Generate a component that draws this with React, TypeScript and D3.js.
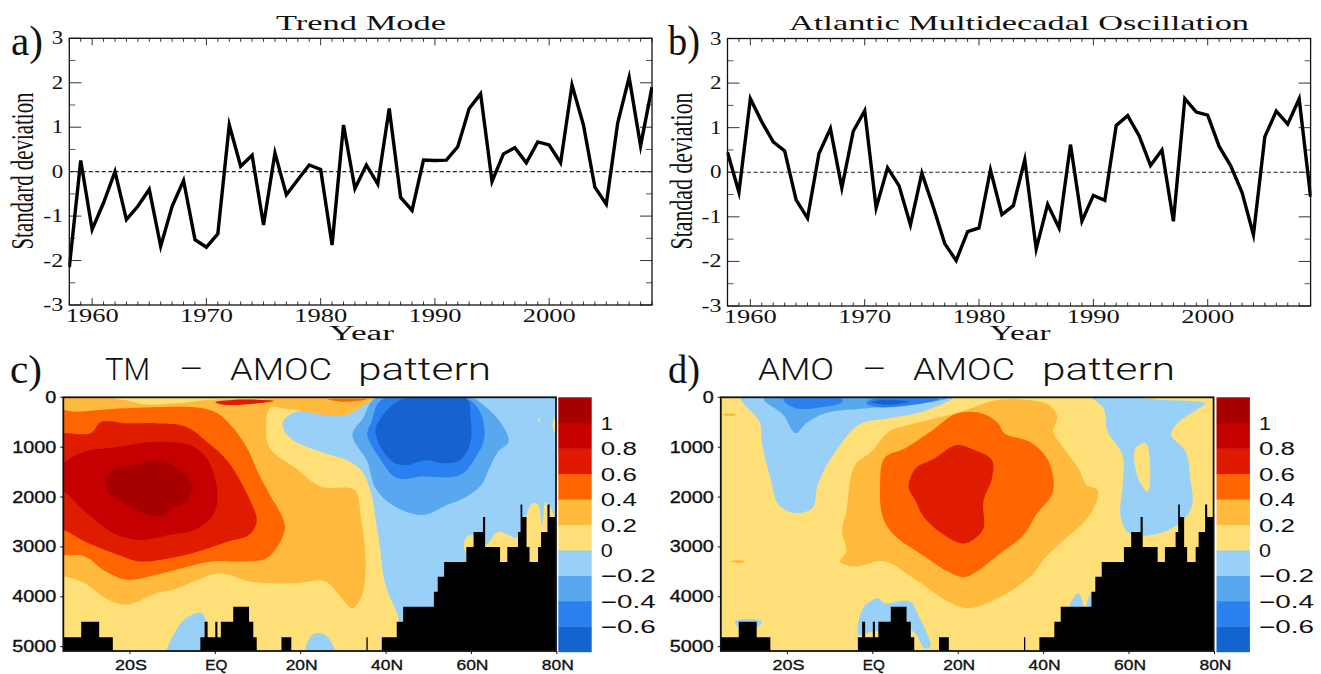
import * as d3 from "d3";

type Pt = [number, number];

const years = d3.range(1958, 2010);
const trendMode = [
  -2.15, 0.25, -1.3, -0.7, 0.0, -1.08, -0.78, -0.4, -1.68, -0.78, -0.2, -1.53, -1.7, -1.4, 1.05, 0.12, 0.37, -1.2,
  0.42, -0.52, -0.18, 0.15, 0.05, -1.65, 1.05, -0.38, 0.15, -0.28, 1.42, -0.58, -0.87, 0.26, 0.25, 0.26, 0.56, 1.42,
  1.75, -0.22, 0.4, 0.54, 0.2, 0.67, 0.6, 0.2, 1.95, 1.05, -0.35, -0.73, 1.1, 2.12, 0.58, 1.9,
];
const amo = [
  0.45, -0.45, 1.65, 1.13, 0.68, 0.48, -0.62, -1.03, 0.42, 0.98, -0.35, 0.92, 1.38, -0.8, 0.1, -0.3, -1.18, -0.02,
  -0.78, -1.6, -1.98, -1.33, -1.25, 0.05, -0.95, -0.75, 0.28, -1.72, -0.72, -1.25, 0.62, -1.1, -0.52, -0.63, 1.05,
  1.27, 0.82, 0.15, 0.5, -1.1, 1.65, 1.35, 1.28, 0.58, 0.15, -0.45, -1.4, 0.8, 1.37, 1.08, 1.65, -0.55,
];
const yearTicks = [1960, 1970, 1980, 1990, 2000];
const sdTicks = [-3, -2, -1, 0, 1, 2, 3];
const latTicks: [number, string][] = [
  [-20, "20S"],
  [0, "EQ"],
  [20, "20N"],
  [40, "40N"],
  [60, "60N"],
  [80, "80N"],
];
const depthTicks = [0, 1000, 2000, 3000, 4000, 5000];
const bandEdges = d3.range(-0.8, 1.21, 0.2).map((d) => +d.toFixed(1));
const bandColors = [
  "#1464d0",
  "#2a80ee",
  "#58a8f0",
  "#98d0f8",
  "#ffe078",
  "#ffba3c",
  "#ff6600",
  "#e01a00",
  "#c40000",
  "#a80000",
];
const barLabels = [-0.6, -0.4, -0.2, 0, 0.2, 0.4, 0.6, 0.8, 1];

// sea floor: lat where a step starts, depth of the floor from there on
const floorLat = [
  -37, -31.4, -27.2, -24, -3.5, -2.5, -1.8, 0, 0.5, 1.3, 4.2, 7.9, 8.9, 9.7, 15.5, 17.8, 35.4, 35.7, 39, 42.5, 44,
  51.2, 52.1, 53.6, 58.8, 60.5, 62.7, 63.2, 66.7, 68.4, 70.9, 71.5, 71.9, 72.9, 73.6, 75.6, 76.3, 77.8, 78.3, 80.5,
];
const floorDepth = [
  4810, 4500, 4810, 5200, 4810, 4500, 4810, 4500, 4810, 4500, 4200, 4500, 4810, 5200, 4810, 5200, 4810, 5200, 4810,
  4500, 4200, 3900, 3600, 3300, 3000, 2700, 2400, 3000, 3300, 3000, 2700, 2150, 2400, 3000, 3300, 3000, 2700, 2150,
  2400, 2400,
];

// TM panel contours, lat / depth
const tmBlue0: Pt[] = [
  [15.8, 500], [18.8, 290], [24.7, 320], [29.6, 370], [33.6, 220], [37.1, -20], [82, -20], [82, 5200], [43, 5200],
  [43, 4460], [40.5, 3930], [39.5, 3630], [38.5, 2960], [37.5, 2420], [36.6, 1960], [34.6, 1520], [31.6, 1290],
  [24.7, 1090], [18.8, 890], [16.3, 690],
];
const tmBottomA: Pt[] = [[-11.4, 5200], [-8.9, 4630], [-6.9, 4430], [-3, 4330], [-3, 5200]];
const tmBottomB: Pt[] = [[21.2, 5200], [22.7, 4760], [25.7, 4760], [28.2, 5200]];
const tmRidge: Pt[] = [
  [58.3, 3030], [58.8, 2810], [60.8, 2760], [63.2, 2960], [66.2, 2700], [70.7, 2810], [72.1, 2560], [74.3, 2120],
  [75.6, 2160], [76.6, 2560], [77.3, 2120], [78.3, 2160], [79.8, 2960], [73.1, 3630], [63.2, 3630],
];
const tmSpot: Pt[] = [[75.7, 410], [76.1, 450], [75.8, 510]];
const tmEdge: Pt[] = [[81, 220], [79, 560], [81, 920]];
const tmWarm02: Pt[] = [
  [-38, 30], [-21.7, 50], [-16.8, 140], [-8.9, 120], [-1, 50], [10.9, 20], [37.1, -10], [33.6, 220], [29.6, 370],
  [16.8, 230], [12.8, 220], [11.9, 620], [12.8, 1020], [18.8, 1420], [24.7, 1790], [32.6, 1860], [34.1, 2420],
  [35.1, 3090], [35.1, 3630], [34.1, 4030], [32.1, 4230], [29.6, 4030], [25.7, 3690], [18.8, 3730], [12.8, 3730],
  [7.9, 3690], [1, 3530], [-4, 3660], [-8.9, 3830], [-13.8, 3930], [-20.8, 4160], [-25.7, 4030], [-30.6, 3730],
  [-35.6, 3590], [-38, 3590],
];
const tmWarm04: Pt[] = [
  [-38, 290], [-32.6, 290], [-20.8, 220], [-3, 220], [1, 350], [4.9, 690], [7.9, 1090], [9.9, 1490], [12.8, 1960],
  [15.8, 2420], [16.3, 2630], [14.8, 2960], [11.9, 3230], [6.9, 3290], [-1, 3290], [-7.9, 3430], [-13.8, 3560],
  [-20.8, 3660], [-25.7, 3490], [-30.6, 3190], [-35.6, 3170], [-38, 3170],
];
const tmWarm06: Pt[] = [
  [-38, 790], [-29.2, 720], [-26.7, 490], [-20.8, 520], [-13.8, 520], [-6.9, 590], [-2, 890], [3, 1290], [7.9, 2020],
  [9.7, 2490], [7.9, 2760], [3, 2890], [-4, 3090], [-10.9, 3230], [-17.8, 3290], [-22.7, 3160], [-30.6, 2890],
  [-35.6, 2660], [-38, 2660],
];
const tmWarm08: Pt[] = [
  [-38, 1520], [-31.6, 1120], [-22.7, 990], [-13.8, 890], [-5.9, 960], [-2, 1220], [0.5, 1890], [-0.5, 2360],
  [-4.9, 2660], [-10.9, 2760], [-17.8, 2860], [-23.7, 2730], [-30.6, 2290], [-35.6, 1890], [-38, 1890],
];
const tmWarm10: Pt[] = [
  [-25.7, 1690], [-23.7, 1420], [-18.8, 1360], [-13.3, 1260], [-8.9, 1420], [-5.4, 1760], [-6.9, 2090], [-9.9, 2220],
  [-12.8, 2390], [-16.8, 2320], [-21.7, 2120], [-25.2, 1890],
];
const tmSliverRed: Pt[] = [[0, 100], [4.9, 50], [13.8, 70], [8.9, 130], [2, 150]];
const tmSliverOrange: Pt[] = [[26.2, 40], [35.6, 40], [30.6, 90]];
const tmCool2: Pt[] = [
  [37.5, 20], [60.3, 20], [62.7, 150], [66.7, 490], [68.7, 890], [66.2, 1090], [64.2, 1420], [62.3, 1760], [58.3, 2020],
  [54.3, 2160], [48.4, 2360], [41.5, 2160], [37.5, 1820], [35.6, 1290], [32.1, 750], [34.6, 420],
];
const tmCool4: Pt[] = [
  [39, 50], [59.3, 50], [62.3, 350], [63, 820], [61.3, 1160], [57.3, 1560], [48.4, 1590], [42.5, 1620], [38.5, 1220],
  [35.6, 750], [36.6, 490],
];
const tmCool6: Pt[] = [
  [41, 190], [44.5, 20], [58.8, 20], [59.8, 420], [59.8, 890], [57.3, 1260], [53.4, 1320], [49.4, 1260], [44.5, 1360],
  [41.5, 1290], [38.5, 960], [37.5, 650], [38.5, 450],
];

// AMO panel contours, lat / depth
const amoBlue0A: Pt[] = [
  [-30.9, -20], [-26.5, 490], [-26, 890], [-24, 1620], [-22, 2160], [-18.1, 2320], [-14.1, 2220], [-13.1, 1820],
  [-11.2, 1420], [-8.2, 1020], [-3.3, 550], [3.7, 420], [11.6, 290], [19, -20],
];
const amoCool2: Pt[] = [
  [-25.5, 30], [-21, 350], [-18.1, 720], [-15.6, 520], [-11.2, 320], [-1.3, 220], [9.6, 150], [17.5, 20],
];
const amoCool4A: Pt[] = [[-21, 40], [-18.1, 220], [-11.2, 190], [-7.2, 100], [-7.2, 40]];
const amoCool4B: Pt[] = [[-1.5, 120], [1.7, 200], [11.6, 120], [15.5, 40], [-0.3, 40]];
const amoCool6: Pt[] = [[-0.3, 100], [3.7, 150], [8.6, 90], [2.7, 50]];
const amoBlue0B: Pt[] = [
  [51.1, -20], [54, 220], [55, 690], [58.5, 1160], [58.5, 1760], [58, 2360], [60, 2730], [66.9, 2730], [72.3, 2490],
  [74.8, 2160], [74.3, 1620], [73.3, 1090], [69.9, 750], [71.3, 520], [75.8, 250], [77.8, 120], [66.9, 50], [59, -20],
];
const amoHole: Pt[] = [[61.5, 1020], [63.9, 920], [64.9, 1290], [64.4, 1890], [62.9, 1760], [61.5, 1420]];
const amoBottomA: Pt[] = [
  [-3.3, 4760], [-2.3, 4230], [1.2, 4030], [2.7, 4130], [8.6, 4090], [10.6, 4360], [13.5, 5000], [12.1, 5030],
  [9.6, 4700], [6.6, 4630], [-0.3, 4700],
];
const amoBottomB: Pt[] = [[-32.4, 4500], [-29.4, 4440], [-26, 4500], [-27.5, 4630], [-30.9, 4630]];
const amoBottomC: Pt[] = [[46.1, 4200], [48.1, 3930], [49.1, 4200]];
const amoBottomD: Pt[] = [[50.1, 4200], [51.3, 3890], [51.3, 4210]];
const amoWarm02: Pt[] = [
  [-7.7, 3290], [-6.2, 3090], [-7.2, 2690], [-6.2, 2290], [-4.2, 1360], [-0.3, 1090], [3.7, 690], [8.6, 550],
  [19.5, 320], [29.3, 50], [35.3, 50], [41.2, 150], [43.2, 390], [42.2, 690], [44.2, 960], [48.1, 1420], [50.1, 1760],
  [52.6, 1860], [52.1, 2160], [49.6, 2490], [45.2, 2830], [40.2, 3230], [37.3, 3560], [29.3, 4030], [22.4, 4230],
  [17.5, 4090], [9.6, 3630], [2.7, 3290], [-4.2, 3390],
];
const amoWarm04: Pt[] = [
  [1.7, 1820], [2.7, 1220], [7.6, 1020], [13.5, 690], [19.5, 330], [25.4, 320], [29.3, 520], [30.8, 720], [37.3, 920],
  [41.2, 1290], [42.2, 1890], [38.2, 2360], [35.3, 2760], [29.3, 3160], [24.4, 3490], [21.4, 3610], [17.5, 3490],
  [11.6, 3160], [4.6, 2730], [2.2, 2360],
];
const amoWarm06: Pt[] = [
  [8.4, 1790], [10.1, 1420], [14.5, 1220], [19.5, 960], [23.9, 1060], [27.9, 1260], [27.9, 1620], [25.9, 2090],
  [25.9, 2630], [23.4, 2860], [20.9, 2930], [15.5, 2690], [11.6, 2360], [10.1, 2090],
];
const amoDashA: Pt[] = [[-35.2, 350], [-33.5, 320], [-32, 350], [-33.5, 380]];
const amoDashB: Pt[] = [[-33.4, 3290], [-31.5, 3260], [-29.9, 3290], [-31.5, 3320]];

// band = lower edge of the colour band, painted in this order
const tmLayers: [number, Pt[]][] = [
  [-0.2, tmBlue0],
  [-0.2, tmBottomA],
  [-0.2, tmBottomB],
  [0, tmRidge],
  [0, tmSpot],
  [0, tmEdge],
  [0.2, tmWarm02],
  [0.4, tmWarm04],
  [0.6, tmWarm06],
  [0.8, tmWarm08],
  [1, tmWarm10],
  [0.4, tmSliverOrange],
  [0.6, tmSliverRed],
  [-0.4, tmCool2],
  [-0.6, tmCool4],
  [-0.8, tmCool6],
];
const amoLayers: [number, Pt[]][] = [
  [-0.2, amoBlue0A],
  [-0.4, amoCool2],
  [-0.6, amoCool4A],
  [-0.6, amoCool4B],
  [-0.8, amoCool6],
  [-0.2, amoBlue0B],
  [0, amoHole],
  [-0.2, amoBottomA],
  [-0.2, amoBottomB],
  [-0.2, amoBottomC],
  [-0.2, amoBottomD],
  [0.2, amoWarm02],
  [0.4, amoWarm04],
  [0.6, amoWarm06],
  [0.2, amoDashA],
  [0.2, amoDashB],
];

const serif = "'Liberation Serif', serif";
const sans = "'Liberation Sans', sans-serif";

const bandColor = d3.scaleThreshold<number, string>().domain(bandEdges.slice(1, -1)).range(bandColors);

function Txt(p: {
  x: number;
  y: number;
  w: number;
  size: number;
  font: string;
  anchor?: string;
  rotate?: boolean;
  heavy?: boolean;
  weight?: number;
  children: string;
}) {
  return (
    <text
      x={p.rotate ? 0 : p.x}
      y={p.rotate ? 0 : p.y}
      transform={p.rotate ? `translate(${p.x},${p.y}) rotate(-90)` : undefined}
      fontFamily={p.font}
      fontSize={p.size}
      fontWeight={p.weight}
      textAnchor={p.anchor ?? "middle"}
      textLength={p.w}
      lengthAdjust="spacingAndGlyphs"
      fill="#111"
      stroke={p.heavy ? "#111" : undefined}
      strokeWidth={p.heavy ? 0.35 : undefined}
    >
      {p.children}
    </text>
  );
}

function SeriesPanel(p: {
  id: string;
  left: number;
  right: number;
  top: number;
  bottom: number;
  values: number[];
  title: string;
  titleX: number;
  titleW: number;
  tag: string;
  tagX: number;
  ylabel: string;
  ylabelX: number;
  yearX: number;
  yearW: number;
}) {
  const { left, right, top, bottom } = p;
  const x = d3.scaleLinear().domain([1958, 2009]).range([left, right]);
  const y = d3.scaleLinear().domain([-3, 3]).range([bottom, top]);
  const line = d3
    .line<number>()
    .x((_, i) => x(years[i]))
    .y((d) => y(d));
  const yMinor = d3.range(-2.5, 3, 1);
  return (
    <g>
      <clipPath id={p.id}>
        <rect x={left - 1} y={top} width={right - left + 2} height={bottom - top} />
      </clipPath>
      <line x1={left} x2={right} y1={y(0)} y2={y(0)} stroke="#222" strokeWidth={1.2} strokeDasharray="4 2.5" />
      {years.map((yr) => {
        const len = yr % 10 === 0 ? 7 : 3.5;
        return (
          <g key={yr} stroke="#333" strokeWidth={1}>
            <line x1={x(yr)} x2={x(yr)} y1={top} y2={top + len} />
            <line x1={x(yr)} x2={x(yr)} y1={bottom} y2={bottom - len} />
          </g>
        );
      })}
      {sdTicks.map((v) => (
        <g key={v} stroke="#333" strokeWidth={1}>
          <line x1={left} x2={left + 12} y1={y(v)} y2={y(v)} />
          <line x1={right} x2={right - 12} y1={y(v)} y2={y(v)} />
        </g>
      ))}
      {yMinor.map((v) => (
        <g key={v} stroke="#555" strokeWidth={1}>
          <line x1={left} x2={left + 6} y1={y(v)} y2={y(v)} />
          <line x1={right} x2={right - 6} y1={y(v)} y2={y(v)} />
        </g>
      ))}
      <path
        d={line(p.values) ?? ""}
        fill="none"
        stroke="#000"
        strokeWidth={3.4}
        strokeLinejoin="miter"
        strokeMiterlimit={6}
        clipPath={`url(#${p.id})`}
      />
      <rect x={left} y={top} width={right - left} height={bottom - top} fill="none" stroke="#111" strokeWidth={1.3} />
      {yearTicks.map((yr) => (
        <Txt key={yr} x={x(yr)} y={bottom + 17} w={53} size={18} font={serif}>
          {String(yr)}
        </Txt>
      ))}
      {sdTicks.map((v) => (
        <Txt key={v} x={left - 6} y={y(v) + 6} w={v < 0 ? 20 : 11.5} size={18} font={serif} anchor="end">
          {v < 0 ? `-${-v}` : String(v)}
        </Txt>
      ))}
      <Txt x={p.titleX} y={30} w={p.titleW} size={21} font={serif}>
        {p.title}
      </Txt>
      <Txt x={p.tagX} y={55} w={32} size={42} font={serif} anchor="start">
        {p.tag}
      </Txt>
      <Txt x={p.ylabelX} y={171} w={157} size={32} font={serif} rotate>
        {p.ylabel}
      </Txt>
      <Txt x={p.yearX} y={340} w={p.yearW} size={20} font={serif}>
        Year
      </Txt>
    </g>
  );
}

function SectionPanel(p: {
  id: string;
  left: number;
  right: number;
  barLeft: number;
  layers: [number, Pt[]][];
  titleWords: [string, number, number][];
  tag: string;
  tagX: number;
}) {
  const top = 397.3;
  const bottom = 651;
  const { left, right, barLeft } = p;
  const x = d3.scaleLinear().domain([-35.6, 79.8]).range([left, right]);
  const y = d3.scaleLinear().domain([0, 5087]).range([top, bottom]);
  const contour = d3
    .line<Pt>()
    .x((d) => x(d[0]))
    .y((d) => y(d[1]))
    .curve(d3.curveCatmullRomClosed.alpha(0.5));
  const floor = d3
    .area<number>()
    .x((_, i) => x(floorLat[i]))
    .y0(y(5200))
    .y1((d) => y(d))
    .curve(d3.curveStepAfter);
  const bar = d3.scaleLinear().domain([-0.8, 1.2]).range([651.7, 397.3]);
  const barW = 33.4;
  return (
    <g>
      <defs>
        <filter id={`${p.id}-soft`} x="-2%" y="-2%" width="104%" height="104%">
          <feGaussianBlur stdDeviation={0.5} />
        </filter>
      </defs>
      <clipPath id={p.id}>
        <rect x={left} y={top} width={right - left} height={bottom - top} />
      </clipPath>
      <g clipPath={`url(#${p.id})`}>
        <g filter={`url(#${p.id}-soft)`}>
          <rect x={left - 5} y={top - 5} width={right - left + 10} height={bottom - top + 10} fill={bandColor(0)} />
          {p.layers.map(([band, pts], i) => (
            <path key={i} d={contour(pts) ?? ""} fill={bandColor(band)} />
          ))}
          <path d={floor(floorDepth) ?? ""} fill="#000" />
        </g>
      </g>
      <rect x={left} y={top} width={right - left} height={bottom - top} fill="none" stroke="#111" strokeWidth={1.8} />
      {depthTicks.map((d) => (
        <g key={d}>
          <line x1={left - 3} x2={left} y1={y(d)} y2={y(d)} stroke="#111" strokeWidth={1} />
          <Txt x={left - 7} y={y(d) + 5.5} w={d === 0 ? 11 : 44} size={16} font={sans} anchor="end" heavy>
            {String(d)}
          </Txt>
        </g>
      ))}
      {latTicks.map(([lat, label]) => (
        <g key={label}>
          <line x1={x(lat)} x2={x(lat)} y1={bottom} y2={bottom + 3} stroke="#111" strokeWidth={1} />
          <Txt x={x(lat) + 1} y={670} w={label === "EQ" ? 22 : 32} size={15} font={sans} heavy>
            {label}
          </Txt>
        </g>
      ))}
      {bandColors.map((c, i) => (
        <rect
          key={c}
          x={barLeft}
          y={bar(bandEdges[i + 1])}
          width={barW}
          height={bar(bandEdges[i]) - bar(bandEdges[i + 1]) + 0.5}
          fill={c}
        />
      ))}
      {barLabels.map((v) => {
        const neg = v < 0;
        const label = neg ? `\u2212${-v}` : String(v);
        const w = v === 0 || v === 1 ? 12 : neg ? 55 : 36;
        return (
          <Txt key={v} x={barLeft + 42.5} y={bar(v) + 7} w={w} size={18} font={sans} anchor="start">
            {label}
          </Txt>
        );
      })}
      {p.titleWords.map(([word, wx, w]) => (
        <Txt key={word} x={wx} y={380} w={w} size={32} weight={300} font="Roboto, sans-serif" anchor="start">
          {word}
        </Txt>
      ))}
      <Txt x={p.tagX} y={383} w={32} size={40} font={serif} anchor="start">
        {p.tag}
      </Txt>
    </g>
  );
}

export default function App() {
  return (
    <svg
      width={1321}
      height={674}
      viewBox="0 0 1321 674"
      style={{ position: "absolute", left: 0, top: 0, background: "#fff" }}
    >
      <SeriesPanel
        id="clipA"
        left={69.3}
        right={652}
        top={38.3}
        bottom={305}
        values={trendMode}
        title="Trend Mode"
        titleX={361}
        titleW={170}
        tag="a)"
        tagX={11}
        ylabel="Standard deviation"
        ylabelX={33}
        yearX={361.5}
        yearW={65}
      />
      <SeriesPanel
        id="clipB"
        left={727.5}
        right={1310.6}
        top={38.5}
        bottom={306}
        values={amo}
        title="Atlantic Multidecadal Oscillation"
        titleX={1019}
        titleW={460}
        tag="b)"
        tagX={668}
        ylabel="Standad deviation"
        ylabelX={692}
        yearX={1020}
        yearW={61}
      />
      <SectionPanel
        id="clipC"
        left={63.3}
        right={556}
        barLeft={558.3}
        layers={tmLayers}
        titleWords={[
          ["TM", 105, 45],
          ["\u2212", 178, 26],
          ["AMOC", 230, 102],
          ["pattern", 358, 133],
        ]}
        tag="c)"
        tagX={10}
      />
      <SectionPanel
        id="clipD"
        left={720.8}
        right={1213.6}
        barLeft={1216.5}
        layers={amoLayers}
        titleWords={[
          ["AMO", 758, 76],
          ["\u2212", 861, 26],
          ["AMOC", 913, 102],
          ["pattern", 1042, 133],
        ]}
        tag="d)"
        tagX={668}
      />
    </svg>
  );
}
